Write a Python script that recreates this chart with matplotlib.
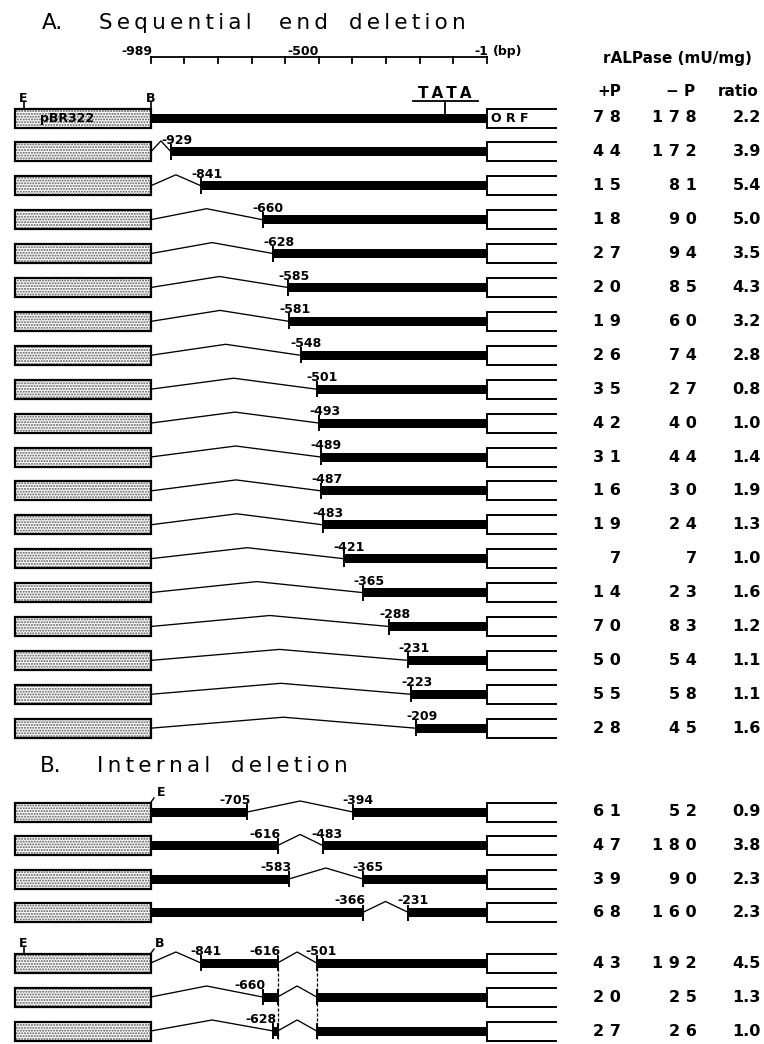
import numpy as np
import matplotlib.pyplot as plt
from matplotlib.patches import Rectangle

plt.rcParams['font.family'] = ['DejaVu Sans']
plt.rcParams['hatch.linewidth'] = 1.0

# A. sequential end deletions: 5' end point (bp), wild type first
a_starts = [-989, -929, -841, -660, -628, -585, -581, -548, -501, -493,
            -489, -487, -483, -421, -365, -288, -231, -223, -209]
a_plus = [78, 44, 15, 18, 27, 20, 19, 26, 35, 42, 31, 16, 19, 7, 14, 70, 50, 55, 28]
a_minus = [178, 172, 81, 90, 94, 85, 60, 74, 27, 40, 44, 30, 24, 7, 23, 83, 54, 58, 45]
a_ratio = ["2.2", "3.9", "5.4", "5.0", "3.5", "4.3", "3.2", "2.8", "0.8", "1.0",
           "1.4", "1.9", "1.3", "1.0", "1.6", "1.2", "1.1", "1.1", "1.6"]

# B. internal deletions: kept promoter segments (start, end) in bp
b_segments = [
    [(-989, -705), (-394, -1)],
    [(-989, -616), (-483, -1)],
    [(-989, -583), (-365, -1)],
    [(-989, -366), (-231, -1)],
    [(-841, -616), (-501, -1)],
    [(-660, -616), (-501, -1)],
    [(-628, -616), (-501, -1)],
]
b_labels = [[(-705, 'right'), (-394, 'left')],
            [(-616, 'right'), (-483, 'left')],
            [(-583, 'right'), (-365, 'left')],
            [(-366, 'right'), (-231, 'left')],
            [(-841, 'left'), (-616, 'right'), (-501, 'left')],
            [(-660, 'right')],
            [(-628, 'right')]]
b_plus = [61, 47, 39, 68, 43, 20, 27]
b_minus = [52, 180, 90, 160, 192, 25, 26]
b_ratio = ["0.9", "3.8", "2.3", "2.3", "4.5", "1.3", "1.0"]

tata_bp = -124
scale_ticks = np.linspace(-989, -1, 11)

# layout (pixels)
X_B, X_END = 150.7, 486.7
S = (X_END - X_B) / 988.0


def bp(p):
    return -989 + (p - X_B) / S


a_y = [118 + 33.9 * i for i in range(len(a_starts))]
b_y = [812 + 33.5 * i for i in range(4)] + [963 + 34 * i for i in range(3)]

fig = plt.figure(figsize=(7.64, 10.44), dpi=100)
ax = fig.add_axes([0, 0, 1, 1])
ax.set_xlim(bp(0), bp(764))
ax.set_ylim(1044, 0)
ax.axis('off')

LAB = dict(fontsize=9, fontweight='bold', va='baseline')
VAL = dict(fontsize=11.5, fontweight='bold', va='center', ha='right')
HEAD = dict(fontsize=11, fontweight='bold', va='center', ha='center')


def spaced(word):
    return '\u2009'.join(word)


def pbr_box(y):
    ax.add_patch(Rectangle((bp(15), y - 9.5), -989 - bp(15), 19, facecolor='white',
                           edgecolor='#555555', hatch='......', lw=0))
    ax.add_patch(Rectangle((bp(15), y - 9.5), -989 - bp(15), 19, fill=False,
                           edgecolor='black', lw=1.6))


def orf_box(y):
    ax.plot([bp(556), -1, -1, bp(556)], [y - 9.5, y - 9.5, y + 9.5, y + 9.5],
            color='black', lw=1.4, solid_joinstyle='miter')


def thick(a, b, y):
    ax.add_patch(Rectangle((a, y - 4.5), b - a, 9, facecolor='black', lw=0))


def tick(x, y):
    ax.plot([x, x], [y - 7, y + 7], color='black', lw=1.4)


def jump(a, b, y):
    ax.plot([a, (a + b) / 2, b], [y, y - 11, y], color='black', lw=0.95)


def values(y, p, m, r):
    ax.text(bp(621), y, ' '.join(str(p)), **VAL)
    ax.text(bp(697), y, ' '.join(str(m)), **VAL)
    ax.text(bp(761), y, r, **VAL)


def title(y, words):
    for k, (x, w) in enumerate(words):
        txt = w if k == 0 else spaced(w)
        ax.text(bp(x), y, txt, fontsize=15.5, va='center', ha='left')


# titles
title(23, [(42, 'A.'), (99, 'Sequential'), (279, 'end'), (349, 'deletion')])
title(766, [(40, 'B.'), (97, 'Internal'), (231, 'deletion')])

# bp scale
ax.plot([-989, -1], [57, 57], color='black', lw=1.3)
for t in scale_ticks:
    ax.plot([t, t], [57, 62.5], color='black', lw=1.3)
for t, s in [(-989, '-989'), (-500, '-500'), (-1, '-1')]:
    ax.text(t + 2 / S, 55, s, ha='right', **LAB)
ax.text(bp(493), 55, '(bp)', ha='left', **LAB)

# table header
ax.text(bp(677), 58, 'rALPase (mU/mg)', **HEAD)
ax.text(bp(609), 91, '+P', **HEAD)
ax.text(bp(681), 91, '\u2212 P', **HEAD)
ax.text(bp(738), 91, 'ratio', **HEAD)

# A rows
for i, (s, y) in enumerate(zip(a_starts, a_y)):
    pbr_box(y)
    orf_box(y)
    thick(s, -1, y)
    if i > 0:
        jump(-989, s, y)
        tick(s, y)
        ax.text(s - 10 / S, y - 8, str(s), ha='left', **LAB)
    values(y, a_plus[i], a_minus[i], a_ratio[i])

# wild-type annotations
y0 = a_y[0]
ax.text(bp(40), y0 + 0.5, 'pBR322', fontsize=9, fontweight='bold', ha='left', va='center')
ax.text(bp(491), y0 + 0.5, 'O R F', fontsize=9, fontweight='bold', ha='left', va='center')
ax.text(bp(23), y0 - 16, 'E', ha='center', **LAB)
ax.plot([bp(24), bp(24)], [y0 - 16, y0 - 9.5], color='black', lw=1.2)
ax.text(-989, y0 - 16, 'B', ha='center', **LAB)
ax.plot([-989, -989], [y0 - 16, y0 - 9.5], color='black', lw=1.2)
ax.text(tata_bp, y0 - 20, spaced('TATA'), fontsize=11, fontweight='bold',
        ha='center', va='baseline')
ax.plot([tata_bp - 32 / S, tata_bp + 33 / S], [y0 - 17.5, y0 - 17.5], color='black', lw=1.3)
ax.plot([tata_bp, tata_bp], [y0 - 17.5, y0 - 4.5], color='black', lw=1.3)

# B rows
for j, (segs, y) in enumerate(zip(b_segments, b_y)):
    pbr_box(y)
    orf_box(y)
    prev = -989
    for a, b in segs:
        if a != prev:
            jump(prev, a, y)
            tick(a, y)
        thick(a, b, y)
        if b != -1:
            tick(b, y)
        prev = b
    for x, side in b_labels[j]:
        if side == 'right':
            ax.text(x + 3 / S, y - 8, str(x), ha='right', **LAB)
        else:
            ax.text(x - 11 / S, y - 8, str(x), ha='left', **LAB)
    values(y, b_plus[j], b_minus[j], b_ratio[j])

# E / B sites in section B
yb = b_y[0]
ax.text(bp(161), yb - 16, 'E', ha='center', **LAB)
ax.plot([-989, bp(154)], [yb - 9.5, yb - 14], color='black', lw=1.0)
yb = b_y[4]
ax.text(bp(23), yb - 16, 'E', ha='center', **LAB)
ax.plot([bp(24), bp(24)], [yb - 16, yb - 9.5], color='black', lw=1.2)
ax.text(bp(160), yb - 16, 'B', ha='center', **LAB)
ax.plot([-989, bp(154)], [yb - 9.5, yb - 14], color='black', lw=1.0)

# dashed guides for shared deletion ends
for x in (-616, -501):
    ax.plot([x, x], [b_y[4] + 4.5, b_y[6] + 8], color='black', lw=0.9,
            linestyle=(0, (2.5, 1.5)))

fig.savefig('out.png', dpi=100)
